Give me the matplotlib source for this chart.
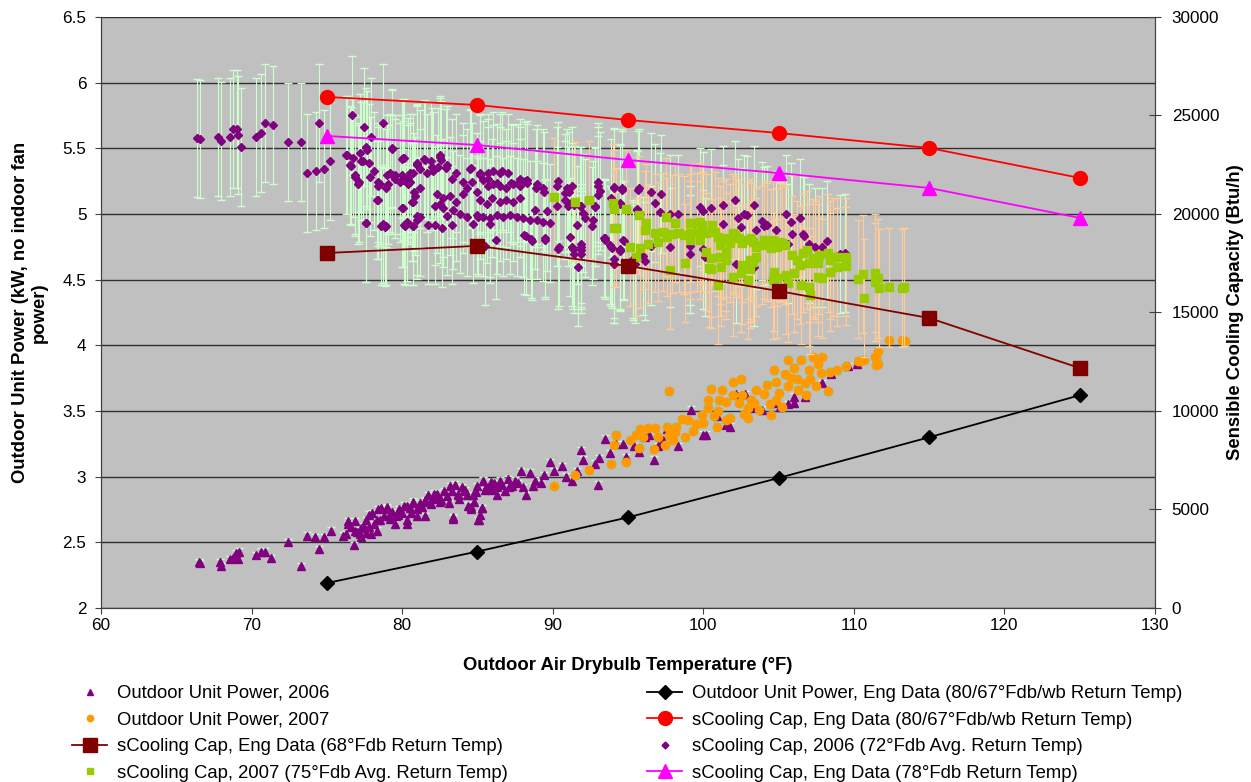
import matplotlib
matplotlib.use("Agg")
import matplotlib.pyplot as plt
from matplotlib.lines import Line2D

plt.rcParams['font.family'] = ['Liberation Sans', 'DejaVu Sans']

# engineering data (manufacturer), x = outdoor drybulb
eng_temp = [75, 85, 95, 105, 115, 125]
eng_power = [2.19, 2.43, 2.69, 2.99, 3.30, 3.62]            # kW
eng_cap_80 = [25940, 25530, 24770, 24110, 23350, 21830]     # Btu/h
eng_cap_78 = [23960, 23500, 22740, 22080, 21320, 19800]
eng_cap_68 = [18020, 18380, 17360, 16090, 14720, 12180]

# measured sensible capacity 2006 (72F avg return)
cap06_temp = [66.4, 66.6, 67.8, 68.0, 68.6, 68.8, 69.05, 69.1, 69.3, 70.3, 70.6, 70.9, 71.4, 72.4, 73.3,
              73.7, 74.3, 74.5, 74.8, 75.2, 76.7, 76.3, 76.6, 76.9, 77.1, 77.5, 77.6, 77.8, 77.3, 77.9,
              77.6, 78.1, 78.4, 78.7, 78.7, 78.9, 79.0, 79.3, 80.0, 80.0, 80.1, 80.4, 80.5, 80.7, 80.8,
              81.0, 81.0, 80.7, 79.3, 79.5, 78.4, 78.9,
              76.31, 76.75, 77.2, 77.64, 76.53, 77.42, 76.86, 77.13, 77.86, 78.41, 78.52, 79.08, 78.35, 77.6,
              78.63, 78.86, 79.19, 79.52, 79.96, 79.3, 80.03, 80.07, 79.85, 80.41, 80.03, 80.34, 80.18, 80.74,
              80.63, 80.85, 81.18, 80.74, 81.18, 81.62, 82.07, 80.96, 81.45, 81.95, 82.51, 82.95, 82.4, 81.18,
              80.96, 81.73, 82.18, 82.62, 83.28, 82.29, 82.73, 83.17, 83.61, 84.06, 82.73, 82.95, 83.39, 83.84,
              84.28, 82.18, 82.51, 83.28, 83.61, 84.06, 84.28, 84.5, 84.61, 84.94, 84.72, 85.05, 85.16, 85.39,
              85.72, 86.05, 86.49, 86.93, 87.38, 87.82, 88.15, 85.16, 85.61, 85.94, 86.49, 86.93, 87.38, 87.82,
              84.94, 85.39, 85.83, 86.27, 86.71, 87.16, 87.6, 88.04, 88.48, 88.93, 89.37, 89.81, 86.05, 86.6,
              87.05, 85.72, 85.83, 86.23, 85.5, 88.09, 88.55, 89.48, 87.82, 88.26, 88.93, 89.37, 90.37, 90.92,
              91.25, 90.81, 91.25, 91.91, 90.37, 91.36, 91.91, 91.91, 91.65, 91.14, 91.58, 92.14, 92.69, 92.8,
              93.02, 93.13, 93.46, 93.91, 94.46, 94.06, 94.75, 95.46, 94.06, 94.62, 94.46, 95.57, 95.68,
              94.06, 94.6, 95.7, 96.5, 93.9, 94.5, 96.8, 97.2, 97.1, 97.8, 98.3, 95.6, 93.5, 93.9, 94.5,
              94.7, 94.1, 95.3, 96.0, 97.8, 99.1, 99.1, 100.0, 99.8, 100.0, 100.5, 101.3, 102.1, 101.3, 102.3,
              102.7, 102.9, 102.5, 103.9, 104.0, 104.2, 103.4, 103.5, 104.8, 105.1, 105.6, 105.9, 105.5, 105.8,
              106.4, 106.6, 106.7, 107.0, 107.4, 107.9, 108.2, 109.1, 109.4, 100.1, 102.2, 103.4,
              91.9, 91.9, 90.4, 91.25, 91.4, 93.4, 93.8, 94.5, 94.1, 95.3, 96.1, 96.5,
              80.1, 80.5, 81.0, 81.5, 82.0, 82.5, 82.6, 82.9, 84.6, 85.2, 85.7, 86.3, 86.5, 87.2, 87.7, 88.3,
              88.9, 89.4, 90.3, 90.8, 91.1, 91.8, 92.8, 93.0, 93.0, 88.8, 89.6, 90.3, 91.0, 91.4, 92.0, 92.6,
              89.5, 88.6, 88.2]
cap06_btu = [23860, 23800, 23900, 23700, 23900, 24300, 24300, 24000, 23400, 23900, 24100, 24600, 24500, 23650, 23650,
             22100, 22200, 24600, 22300, 22700, 25000, 23000, 22450, 21900, 21500, 24400, 23400, 22600, 22700, 23900,
             19550, 22200, 20700, 24600, 19500, 19400, 22000, 23300, 22800, 20300, 19450, 21850, 21600, 20600, 21100,
             22500, 19700, 19400, 22000, 21800, 21400, 21300,
             23000, 22850, 23100, 23250, 22500, 22700, 22000, 21600, 21900, 21600, 21500, 21500, 20700, 19550,
             19400, 19350, 22100, 22000, 22000, 23350, 22850, 21700, 21600, 21500, 20300, 19600, 19400, 19400,
             20600, 20900, 21300, 22100, 22300, 22100, 22200, 22550, 22800, 22700, 23000, 22500, 22400, 19850,
             19900, 19450, 19450, 19300, 19450, 21000, 20800, 20900, 20600, 21000, 20300, 19900, 20200, 20000,
             19850, 20400, 20500, 21800, 22100, 21600, 21300, 22300, 21600, 21100, 19500, 19850, 22000, 21700,
             21400, 21500, 21400, 21300, 21500, 21400, 21650, 20700, 20500, 20800, 20600, 20700, 20600, 20800,
             19950, 19860, 19780, 19950, 19860, 19950, 19860, 19780, 19700, 19700, 19610, 19530, 22200, 22200,
             22100, 21800, 19500, 18700, 18400, 18950, 18750, 18800, 21800, 21700, 21500, 21300, 21650, 21300,
             21400, 20700, 20600, 20400, 18200, 18200, 18300, 17950, 17300, 18850, 19450, 19800, 19700, 20350,
             21600, 21150, 18700, 18250, 18150, 17450, 18650, 17450, 21300, 21200, 20500, 20200, 21200,
             21385, 21300, 21300, 21130, 20800, 20540, 20540, 21000, 20100, 20000, 20000, 20240, 18770, 18340, 18200,
             18680, 17700, 17700, 17860, 18300, 18400, 17970, 18200, 20350, 20140, 20300, 20440, 20700, 19500, 19800,
             20000, 19950, 19350, 19640, 19400, 19450, 20440, 19200, 19200, 18600, 18500, 19000, 20000, 19600,
             19800, 19000, 18900, 18500, 18300, 18300, 18650, 17980, 18030, 17800, 17450, 17300,
             18500, 18170, 18340, 18340, 17980, 18780, 18430, 18100, 17480, 17600, 17620, 18400,
             22830, 22070, 22570, 22740, 22400, 22900, 22740, 22320, 22320, 22070, 22070, 21560, 22070, 21560, 21560, 21560,
             21310, 21140, 21400, 21060, 21140, 20380, 20380, 21400, 20970, 20210, 20130, 20380, 20380, 20470, 20040, 19370,
             18700, 18630, 18880]

# measured sensible capacity 2007 (75F avg return)
cap07_temp = [90.1, 91.5, 92.4, 94.2,
              94.0, 94.1, 94.9, 95.7, 94.1, 96.2, 96.1, 95.1, 95.8, 96.3, 95.5, 96.8, 97.0, 97.3, 97.5, 97.6,
              97.9, 97.8, 98.1, 98.4, 98.7, 99.1, 99.1, 99.1, 98.8, 99.8, 99.9, 100.2, 100.6, 100.8, 101.0, 101.3,
              101.5,
              100.2, 100.5, 100.5, 101.1, 101.5, 101.8, 102.1, 102.4, 102.6, 103.0, 103.3, 103.5, 103.9, 104.2,
              104.5, 104.9, 105.2, 105.4,
              100.4, 101.2, 101.0, 102.0, 102.5, 103.0, 103.1, 103.1, 103.3, 104.6, 104.7, 104.9, 105.6, 105.5,
              105.9, 106.2, 106.0, 106.5, 106.9, 107.0, 107.1, 107.3, 107.4, 107.6, 107.6, 107.9, 108.3, 108.4,
              108.4, 108.6, 108.9, 108.9, 109.5, 109.5, 106.4, 106.6, 107.0, 107.7,
              110.3, 110.6, 110.7, 111.4, 111.6, 111.4, 111.7, 112.3, 113.2, 113.3,
              102.0, 102.2, 103.2, 104.0, 104.6, 105.1, 102.6, 103.1, 103.5, 101.5, 101.1, 99.8, 99.6, 99.2, 99.9]
cap07_btu = [20850, 20630, 20710, 19310,
             20540, 20240, 20240, 19950, 19270, 19560, 19190, 18340, 18250, 18500, 17830, 19020, 18600, 19100, 19860, 18850,
             18970, 17160, 19530, 19020, 18930, 19530, 19020, 18680, 17500, 19600, 19110, 19020, 19440, 19110, 18850, 18680,
             18770,
             18090, 17750, 17190, 18430, 18090, 18510, 18930, 18770, 18510, 18680, 18590, 18340, 18430, 18590,
             18260, 18340, 18510, 18430,
             17240, 17290, 16400, 16820, 16990, 16650, 17500, 17190, 17580, 16650, 17070, 16730, 16480, 16900,
             17910, 17660, 16990, 16400, 18170, 16310, 15890, 17750, 17660, 17500, 16820, 16730, 18000, 17660,
             17070, 17830, 17830, 17320, 17830, 17370, 17410, 18000, 17500, 17910,
             16680, 16940, 15720, 16990, 16730, 16560, 16260, 16270, 16230, 16310,
             19020, 18770, 18770, 18680, 18680, 18590, 17410, 17660, 17830, 17660, 17830, 18680, 19100, 19530, 19440]

# measured outdoor unit power 2006
pow06_temp = [66.5, 66.6, 67.9, 68.0, 68.6, 68.8, 69.0, 69.2, 69.1, 70.3, 70.6, 70.9, 71.3, 72.4, 73.3, 73.7,
              74.2, 74.5, 74.8, 75.3, 76.3, 76.4, 76.6, 76.8, 76.9, 77.2, 77.3, 77.5, 77.6, 77.8, 78.0, 77.6,
              77.9, 78.3, 78.5, 78.4, 78.6, 79.0, 79.1, 79.3, 79.5, 79.7, 80.0, 80.3, 80.5, 80.7, 81.0, 81.2,
              81.5, 80.3, 81.7, 82.0, 82.3, 82.5, 82.8, 83.2, 83.7, 84.1, 83.4, 84.4, 84.6, 84.7, 85.1, 85.3,
              85.2, 85.4, 85.6, 85.9, 86.3, 86.3,
              76.4, 76.9, 77.3, 77.8, 78.3, 78.8, 79.0, 79.6, 80.1, 80.3, 80.7, 81.0, 81.5, 81.6, 82.1, 82.6,
              83.0, 83.4, 83.5, 83.7, 84.2, 84.6, 84.8, 85.05, 85.3,
              85.4, 85.8, 86.1, 86.6, 87.1, 87.5, 87.9, 88.25, 88.5, 88.85, 89.2, 89.4, 89.8, 90.1, 90.6, 90.9,
              91.3, 91.6, 91.9, 92.0, 92.8, 93.0, 93.1, 93.5, 93.8, 94.2, 94.7, 94.9, 95.4, 95.7, 96.1, 96.4,
              96.7, 97.0, 97.3, 97.6, 98.0, 98.3, 99.2, 100.0, 100.2, 100.9, 101.5, 101.8, 102.2, 102.8, 103.4,
              103.9, 104.6, 105.1, 105.6, 106.0, 106.0, 106.75, 107.9, 108.5, 109.6, 110.2,
              79.2, 79.8, 80.6, 81.3, 81.9, 82.4, 83.1, 83.8, 84.3, 84.9, 85.5, 86.0, 86.8, 87.3, 87.7, 88.0,
              88.7, 78.1, 77.0, 76.1, 86.5, 87.0, 85.0, 84.0, 83.3]
pow06_kw = [2.35, 2.34, 2.35, 2.32, 2.37, 2.38, 2.42, 2.43, 2.37, 2.40, 2.43, 2.43, 2.38, 2.50, 2.32, 2.55,
            2.54, 2.45, 2.54, 2.59, 2.56, 2.64, 2.62, 2.48, 2.66, 2.56, 2.61, 2.62, 2.67, 2.71, 2.72, 2.57,
            2.56, 2.59, 2.67, 2.75, 2.76, 2.77, 2.70, 2.73, 2.64, 2.71, 2.72, 2.78, 2.76, 2.80, 2.70, 2.80,
            2.82, 2.64, 2.86, 2.83, 2.87, 2.81, 2.89, 2.93, 2.86, 2.89, 2.69, 2.78, 2.75, 2.86, 2.67, 2.76,
            2.71, 2.97, 2.92, 2.96, 2.92, 2.86,
            2.66, 2.59, 2.54, 2.62, 2.67, 2.70, 2.75, 2.70, 2.78, 2.67, 2.81, 2.75, 2.70, 2.81, 2.87, 2.82,
            2.85, 2.68, 2.94, 2.87, 2.90, 2.77, 2.81, 2.67, 2.76,
            2.97, 2.92, 2.95, 2.94, 2.92, 2.97, 3.04, 2.86, 3.03, 2.97, 2.95, 3.01, 3.11, 3.04, 3.08, 3.00,
            2.97, 3.04, 3.20, 3.13, 3.10, 2.94, 3.14, 3.29, 3.18, 3.25, 3.25, 3.15, 3.23, 3.19, 3.30, 3.32,
            3.13, 3.23, 3.28, 3.36, 3.30, 3.23, 3.51, 3.32, 3.32, 3.46, 3.39, 3.38, 3.63, 3.63, 3.52,
            3.51, 3.56, 3.53, 3.55, 3.56, 3.61, 3.61, 3.71, 3.78, 3.84, 3.86,
            2.68, 2.75, 2.72, 2.77, 2.79, 2.84, 2.80, 2.83, 2.86, 2.88, 2.90, 2.90, 2.89, 2.93, 2.95, 2.92,
            2.93, 2.64, 2.58, 2.55, 2.97, 2.98, 2.93, 2.92, 2.89]

# measured outdoor unit power 2007
pow07_temp = [90.1, 91.5, 92.4, 93.9, 94.1, 94.2, 94.9, 95.1, 95.5, 95.7, 95.8, 96.3, 96.7, 96.8, 97.45,
              97.6, 97.7, 97.7, 98.1, 98.2, 98.8, 98.6, 99.0, 99.3, 99.9, 100.0, 100.3, 100.3, 100.5, 100.9,
              101.05, 101.25, 101.5, 101.5, 101.96, 102.4, 102.5, 102.7, 102.95, 103.2, 103.4, 103.7, 104.0,
              104.4, 104.7, 104.85, 104.85, 105.2, 105.6, 105.6, 105.8, 106.0, 106.3, 106.5, 106.75, 107.0,
              107.1, 107.3, 107.5, 107.6, 107.9, 108.3, 108.4, 108.9, 109.5, 110.3, 110.7, 111.4, 111.5, 112.3,
              113.2, 113.4, 111.6, 111.5, 110.6, 110.4, 111.6,
              101.0, 101.8, 102.0, 102.6, 103.0, 103.5, 104.2, 104.5, 105.0, 105.4, 106.2, 106.8, 107.8, 98.0,
              99.5, 100.7, 96.0, 97.0]
pow07_kw = [2.93, 3.01, 3.05, 3.10, 3.24, 3.32, 3.11, 3.28, 3.32, 3.22, 3.36, 3.37, 3.21, 3.37, 3.24,
            3.38, 3.32, 3.65, 3.34, 3.38, 3.30, 3.44, 3.43, 3.35, 3.47, 3.41, 3.52, 3.58, 3.67, 3.38,
            3.58, 3.66, 3.57, 3.43, 3.72, 3.56, 3.74, 3.48, 3.52, 3.58, 3.56, 3.51, 3.63,
            3.55, 3.81, 3.72, 3.58, 3.53, 3.69, 3.89, 3.75, 3.83, 3.66, 3.89, 3.71, 3.81,
            3.74, 3.91, 3.69, 3.86, 3.91, 3.65, 3.80, 3.81, 3.84, 3.88, 3.89, 3.91, 3.85, 4.04,
            4.04, 4.03, 3.96, 3.91, 3.89, 3.88, 3.86,
            3.50, 3.45, 3.62, 3.62, 3.45, 3.66, 3.70, 3.47, 3.64, 3.78, 3.74, 3.62, 3.79, 3.28,
            3.40, 3.46, 3.30, 3.30]

cap_err = 3000    # Btu/h, +/- on measured capacity
pow_err = 0.025   # kW, +/- on measured power

FS = 13.3      # labels / legend
TFS = 12.3     # tick labels

fig = plt.figure(figsize=(12.51, 7.82), dpi=100)
fig.subplots_adjust(left=0.0807, right=0.9233, top=0.9783, bottom=0.2225)
ax = fig.add_subplot(111)
ax.set_facecolor('#C0C0C0')
ax2 = ax.twinx()

# left axis: power
ax.errorbar(pow06_temp, pow06_kw, yerr=pow_err, fmt='none', ecolor='#CCFFCC', elinewidth=0.8, capsize=3, zorder=2)
ax.errorbar(pow07_temp, pow07_kw, yerr=pow_err, fmt='none', ecolor='#00FFFF', elinewidth=0.8, capsize=3, zorder=2)
ax.plot(pow06_temp, pow06_kw, ls='none', marker='^', ms=6, color='#800080', mec='#800080', zorder=3)
ax.plot(pow07_temp, pow07_kw, ls='none', marker='o', ms=6, color='#FF9900', mec='#FF9900', zorder=3)
h_peng, = ax.plot(eng_temp, eng_power, color='black', lw=1.3, marker='D', ms=7, zorder=4)

ax.set_xlim(60, 130)
ax.set_ylim(2, 6.5)
ax.set_yticks([2, 2.5, 3, 3.5, 4, 4.5, 5, 5.5, 6, 6.5])
ax.set_yticklabels(['2', '2.5', '3', '3.5', '4', '4.5', '5', '5.5', '6', '6.5'])
ax.set_xticks(range(60, 131, 10))
ax.grid(axis='y', color='#303030', lw=1)
ax.set_axisbelow(True)

# right axis: capacity
ax2.errorbar(cap06_temp, cap06_btu, yerr=cap_err, fmt='none', ecolor='#CCFFCC', elinewidth=0.8, capsize=3, zorder=2)
ax2.errorbar(cap07_temp, cap07_btu, yerr=cap_err, fmt='none', ecolor='#FFCC99', elinewidth=0.8, capsize=3, zorder=2)
ax2.plot(cap06_temp, cap06_btu, ls='none', marker='D', ms=3.8, color='#800080', mec='#800080', zorder=3)
ax2.plot(cap07_temp, cap07_btu, ls='none', marker='s', ms=5.5, color='#99CC00', mec='#99CC00', zorder=3)
h_c68, = ax2.plot(eng_temp, eng_cap_68, color='#800000', lw=1.3, marker='s', ms=9.5, zorder=4)
h_c80, = ax2.plot(eng_temp, eng_cap_80, color='#FF0000', lw=1.3, marker='o', ms=10, zorder=4)
h_c78, = ax2.plot(eng_temp, eng_cap_78, color='#FF00FF', lw=1.3, marker='^', ms=10, zorder=4)
ax2.set_ylim(0, 30000)
ax2.set_yticks(range(0, 30001, 5000))

for a in (ax, ax2):
    for s in a.spines.values():
        s.set_color('#404040')
    a.spines['top'].set_visible(False)
ax.tick_params(axis='y', labelsize=TFS, length=4, pad=6.5, color='#404040')
ax.tick_params(axis='x', labelsize=TFS, length=4, pad=3, color='#404040')
ax2.tick_params(axis='y', labelsize=TFS, length=8, pad=8, direction='inout', color='#404040')

ax.set_xlabel('Outdoor Air Drybulb Temperature (°F)', fontsize=FS, fontweight='bold')
ax.set_ylabel('Outdoor Unit Power (kW, no indoor fan\npower)', fontsize=FS, fontweight='bold')
ax2.set_ylabel('Sensible Cooling Capacity (Btu/h)', fontsize=FS, fontweight='bold')
ax.xaxis.set_label_coords(0.5, -0.083)
ax.yaxis.set_label_coords(-0.05, 0.5)
ax2.yaxis.set_label_coords(1.068, 0.5)

# small legend markers for the measured series, as in the original legend
h_p06 = Line2D([], [], ls='none', marker='^', ms=5, color='#800080')
h_p07 = Line2D([], [], ls='none', marker='o', ms=4.5, color='#FF9900')
h_c06 = Line2D([], [], ls='none', marker='D', ms=3.5, color='#800080')
h_c07 = Line2D([], [], ls='none', marker='s', ms=4.5, color='#99CC00')

leg_kw = dict(frameon=False, fontsize=FS, loc='upper left', borderaxespad=0, borderpad=0,
              handlelength=1.9, handletextpad=0.54, labelspacing=0.52)
fig.legend([h_p06, h_p07, h_c68, h_c07],
           ['Outdoor Unit Power, 2006', 'Outdoor Unit Power, 2007',
            'sCooling Cap, Eng Data (68°Fdb Return Temp)', 'sCooling Cap, 2007 (75°Fdb Avg. Return Temp)'],
           bbox_to_anchor=(72 / 1251, 1 - 685 / 782), **leg_kw)
fig.legend([h_peng, h_c80, h_c06, h_c78],
           ['Outdoor Unit Power, Eng Data (80/67°Fdb/wb Return Temp)',
            'sCooling Cap, Eng Data (80/67°Fdb/wb Return Temp)',
            'sCooling Cap, 2006 (72°Fdb Avg. Return Temp)',
            'sCooling Cap, Eng Data (78°Fdb Return Temp)'],
           bbox_to_anchor=(647 / 1251, 1 - 685 / 782), **leg_kw)

fig.savefig('out.png', dpi=100)
